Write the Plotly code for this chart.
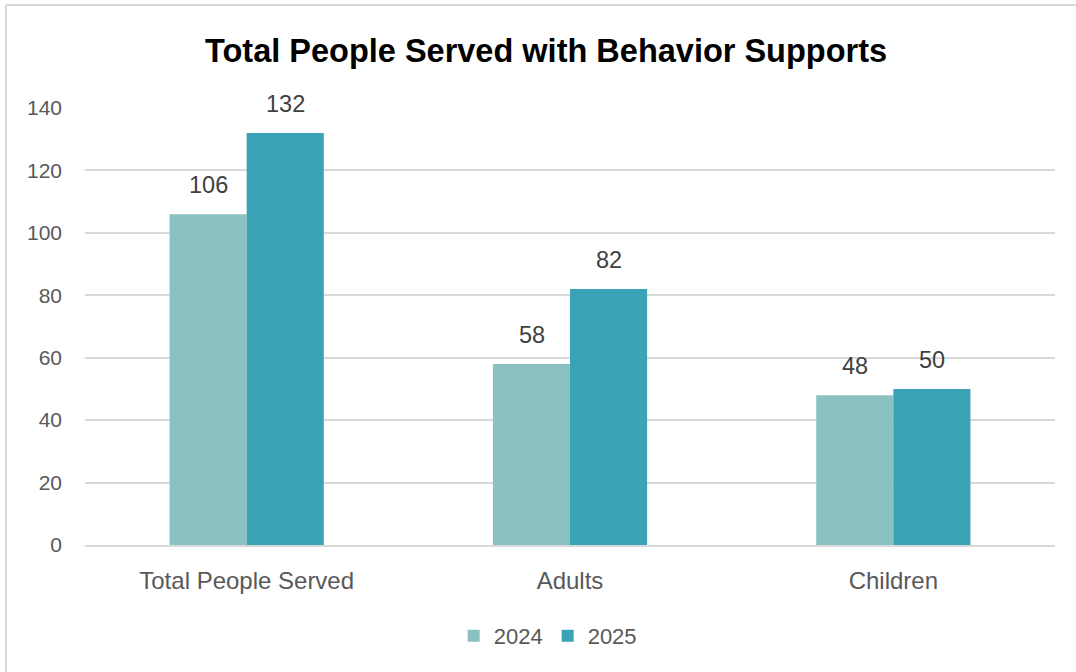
import plotly.graph_objects as go

categories = ["Total People Served", "Adults", "Children"]
series_names = ["2024", "2025"]
values_2024 = [106, 58, 48]
values_2025 = [132, 82, 50]
y_ticks = [0, 20, 40, 60, 80, 100, 120, 140]

colors = {"2024": "#8CC1C1", "2025": "#3AA3B5"}
series_values = {"2024": values_2024, "2025": values_2025}

fig = go.Figure()
for name in series_names:
    fig.add_trace(go.Bar(
        name=name, x=categories, y=series_values[name],
        marker=dict(color=colors[name], line=dict(width=0)),
    ))

# data labels above bars
offsets = {"2024": -38.5, "2025": 38.5}
for name in series_names:
    for cat, val in zip(categories, series_values[name]):
        fig.add_annotation(
            x=cat, y=val, xref="x", yref="y", text=str(val), showarrow=False,
            xshift=offsets[name], yshift=14, yanchor="bottom",
            font=dict(family="Liberation Sans, Arial, sans-serif", size=23.5, color="#404040"),
        )

# outer border (top and left)
fig.add_shape(type="line", xref="paper", yref="paper", x0=-0.0815, x1=1.03, y0=1.2357, y1=1.2357,
              line=dict(color="#D9D9D9", width=2))
fig.add_shape(type="line", xref="paper", yref="paper", x0=-0.0815, x1=-0.0815, y0=1.2357, y1=-0.32,
              line=dict(color="#D9D9D9", width=2))

fig.update_layout(
    width=1076, height=672,
    margin=dict(l=85, r=21, t=108, b=127, autoexpand=False),
    paper_bgcolor="white", plot_bgcolor="white",
    barmode="group", bargap=0.523, bargroupgap=0,
    title=dict(
        text="<b>Total People Served with Behavior Supports</b>",
        x=0.5075, xanchor="center", y=0.925, yanchor="middle",
        font=dict(family="Liberation Sans, Arial, sans-serif", size=32.5, color="#000000"),
    ),
    xaxis=dict(
        showgrid=False, showline=True, linecolor="#D9D9D9", linewidth=1.5,
        ticks="", tickfont=dict(family="Liberation Sans, Arial, sans-serif", size=24, color="#595959"),
        ticklabelstandoff=13,
    ),
    yaxis=dict(
        range=[0, 140], tickvals=y_ticks, showgrid=True, gridcolor="#D9D9D9", gridwidth=1.5,
        zeroline=False, showline=False, ticks="",
        tickfont=dict(family="Liberation Sans, Arial, sans-serif", size=21, color="#595959"),
        ticklabelstandoff=22,
    ),
    legend=dict(
        orientation="h", x=0.477, xanchor="center", y=-0.208, yanchor="middle",
        font=dict(family="Liberation Sans, Arial, sans-serif", size=22, color="#595959"),
        itemwidth=30, traceorder="normal",
    ),
    showlegend=True,
)

fig.write_html("out.html", config={"displayModeBar": False},
               post_script="document.body.style.margin='0';document.body.style.padding='0';")
